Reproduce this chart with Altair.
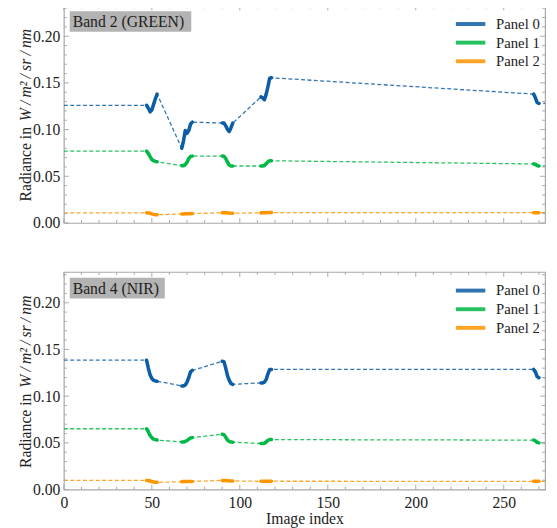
import altair as alt
import pandas as pd

FONT = "Liberation Serif"
INK = "#222222"
FRAME = "#a8a8a8"
X_MAX = 273.5
Y_MAX = 0.233
W, H = 491, 222

band_titles = ["Band 2 (GREEN)", "Band 4 (NIR)"]
panel_names = ["Panel 0", "Panel 1", "Panel 2"]
panel_colors = ["#0C5DA5", "#00B945", "#FF9500"]

# image indices of the five acquisition runs
idx = [47, 48, 49, 50, 51, 52, 53,
       67, 68, 69, 70, 71, 72, 73,
       90, 91, 92, 93, 94, 95, 96,
       112, 113, 114, 115, 116, 117, 118,
       267, 268, 269, 270]
run = (["a"] * 7) + (["b"] * 7) + (["c"] * 7) + (["d"] * 7) + (["e"] * 4)

# Band 2 (GREEN)
b2_p0 = [0.126, 0.123, 0.119, 0.121, 0.127, 0.133, 0.138,
         0.080, 0.088, 0.099, 0.096, 0.099, 0.106, 0.108,
         0.107, 0.107, 0.104, 0.100, 0.098, 0.102, 0.107,
         0.135, 0.134, 0.132, 0.138, 0.146, 0.155, 0.1555,
         0.138, 0.134, 0.129, 0.128]
b2_p1 = [0.077, 0.0745, 0.071, 0.068, 0.0667, 0.066, 0.0655,
         0.0614, 0.0614, 0.0625, 0.065, 0.069, 0.0712, 0.0716,
         0.0716, 0.0714, 0.069, 0.065, 0.062, 0.061, 0.061,
         0.061, 0.061, 0.0615, 0.0635, 0.0655, 0.0666, 0.0666,
         0.0632, 0.0628, 0.0615, 0.061]
b2_p2 = [0.0109, 0.0107, 0.0103, 0.0097, 0.0092, 0.0089, 0.0088,
         0.0096, 0.0097, 0.0098, 0.0098, 0.0099, 0.0100, 0.0101,
         0.0109, 0.0110, 0.0109, 0.0108, 0.0106, 0.0105, 0.0105,
         0.0108, 0.0109, 0.0110, 0.0110, 0.0111, 0.0111, 0.0111,
         0.0110, 0.0110, 0.0110, 0.0110]

# Band 4 (NIR)
b4_p0 = [0.1385, 0.130, 0.123, 0.119, 0.117, 0.1163, 0.116,
         0.111, 0.111, 0.112, 0.115, 0.120, 0.126, 0.1275,
         0.1374, 0.1370, 0.130, 0.122, 0.117, 0.1135, 0.1127,
         0.1142, 0.1142, 0.115, 0.118, 0.124, 0.1286, 0.1286,
         0.1286, 0.126, 0.121, 0.1198]
b4_p1 = [0.0651, 0.062, 0.058, 0.0555, 0.054, 0.0535, 0.053,
         0.051, 0.051, 0.0515, 0.0525, 0.054, 0.0552, 0.0556,
         0.0592, 0.0588, 0.056, 0.053, 0.0515, 0.0508, 0.0507,
         0.0493, 0.0493, 0.0495, 0.051, 0.0527, 0.0535, 0.0535,
         0.0529, 0.0522, 0.0505, 0.050]
b4_p2 = [0.0098, 0.0097, 0.0092, 0.0086, 0.0081, 0.0078, 0.0077,
         0.0084, 0.0085, 0.0085, 0.0086, 0.0086, 0.0087, 0.0087,
         0.0098, 0.0098, 0.0097, 0.0095, 0.0093, 0.0092, 0.0092,
         0.0088, 0.0088, 0.0088, 0.0089, 0.0089, 0.0089, 0.0089,
         0.0088, 0.0088, 0.0088, 0.0088]

band_series = [[b2_p0, b2_p1, b2_p2], [b4_p0, b4_p1, b4_p2]]

x_major = [0, 50, 100, 150, 200, 250]
x_minor = [10, 20, 30, 40, 60, 70, 80, 90, 110, 120, 130, 140,
           160, 170, 180, 190, 210, 220, 230, 240, 260, 270]
y_major = [0.0, 0.05, 0.10, 0.15, 0.20]
y_minor = [0.01, 0.02, 0.03, 0.04, 0.06, 0.07, 0.08, 0.09, 0.11, 0.12,
           0.13, 0.14, 0.16, 0.17, 0.18, 0.19, 0.21, 0.22, 0.23]

y_title_a = "Radiance in"
y_title_b = "W\u2009/\u2009m\u00b2\u2009/\u2009sr\u2009/\u2009nm"

# styling for the band label boxes (pixel widths)
label_box_w = [124, 97]


def panel(b, show_x):
    xs = alt.Scale(domain=[0, X_MAX], nice=False, zero=False)
    ys = alt.Scale(domain=[0, Y_MAX], nice=False)
    cscale = alt.Scale(domain=panel_names, range=panel_colors)

    solid_rows, dash_rows = [], []
    for p, vals in zip(panel_names, band_series[b]):
        for i, v, r in zip(idx, vals, run):
            solid_rows.append({"idx": i, "value": v, "panel": p, "run": r})
        dash_rows.append({"idx": 0, "value": vals[0], "panel": p})
        for i, v in zip(idx, vals):
            dash_rows.append({"idx": i, "value": v, "panel": p})
        dash_rows.append({"idx": X_MAX, "value": vals[-1], "panel": p})
    solid = pd.DataFrame(solid_rows)
    dashed = pd.DataFrame(dash_rows)

    if show_x:
        x_axis = alt.Axis(values=x_major, ticks=False, tickSize=0, domain=False,
                          grid=False, labelPadding=5, labelFlush=False,
                          title="Image index", titlePadding=1)
    else:
        x_axis = None
    y_axis = alt.Axis(values=y_major, format=".2f", ticks=False, tickSize=0,
                      domain=False, grid=False, title=None, labelPadding=4)

    legend = alt.Legend(
        title=None, orient="none", legendX=W - 89, legendY=6, padding=2,
        symbolType="M-1.667,0H1.667", symbolSize=324, symbolStrokeWidth=4,
        labelFont=FONT, labelFontSize=15, labelColor=INK,
        labelOffset=15, rowPadding=0)

    X = lambda f: alt.X(f, scale=xs, axis=x_axis)
    Y = lambda f: alt.Y(f, scale=ys, axis=y_axis)

    dash_layer = alt.Chart(dashed).mark_line(
        strokeWidth=1.3, strokeDash=[4, 2.5], opacity=0.85
    ).encode(
        x=X("idx:Q"), y=Y("value:Q"),
        color=alt.Color("panel:N", scale=cscale, legend=legend),
    )

    solid_layer = alt.Chart(solid).mark_line(
        strokeWidth=3.6, strokeCap="round", strokeJoin="round"
    ).encode(
        x=X("idx:Q"), y=Y("value:Q"),
        color=alt.Color("panel:N", scale=cscale, legend=legend),
        detail="run:N",
    )

    layers = [dash_layer, solid_layer]

    # inward ticks on all four sides
    for vals, ln in ((x_major, 5), (x_minor, 3)):
        tdf = pd.DataFrame({"t": vals})
        base = alt.Chart(tdf).mark_rule(color=FRAME, strokeWidth=1)
        layers.append(base.encode(x=X("t:Q"), y=alt.value(H), y2=alt.value(H - ln)))
        layers.append(base.encode(x=X("t:Q"), y=alt.value(0), y2=alt.value(ln)))
    for vals, ln in ((y_major, 5), (y_minor, 3)):
        tdf = pd.DataFrame({"t": vals})
        base = alt.Chart(tdf).mark_rule(color=FRAME, strokeWidth=1)
        layers.append(base.encode(y=Y("t:Q"), x=alt.value(0), x2=alt.value(ln)))
        layers.append(base.encode(y=Y("t:Q"), x=alt.value(W), x2=alt.value(W - ln)))

    one = pd.DataFrame({"k": [0]})
    # band label box
    layers.append(alt.Chart(one).mark_rect(fill="#b3b3b3").encode(
        x=alt.value(6), x2=alt.value(6 + label_box_w[b]),
        y=alt.value(6), y2=alt.value(27)))
    layers.append(alt.Chart(one).mark_text(
        text=band_titles[b], font=FONT, fontSize=16, color=INK,
        align="left", baseline="middle").encode(
        x=alt.value(9), y=alt.value(17)))

    # y-axis title (roman + italic parts), read bottom-to-top
    yb = H / 2 + 89
    layers.append(alt.Chart(one).mark_text(
        text=y_title_a, font=FONT, fontSize=16, color=INK, angle=270,
        align="left", baseline="middle").encode(
        x=alt.value(-39), y=alt.value(yb)))
    layers.append(alt.Chart(one).mark_text(
        text=y_title_b, font=FONT, fontSize=16, fontStyle="italic", color=INK,
        angle=270, align="right", baseline="middle").encode(
        x=alt.value(-39), y=alt.value(yb - 80 - 96)))

    return alt.layer(*layers).properties(width=W, height=H)


chart = alt.vconcat(panel(0, False), panel(1, True), spacing=39).resolve_scale(
    color="independent"
).configure_view(
    stroke=FRAME, strokeWidth=1.2
).configure_axis(
    labelFont=FONT, labelFontSize=16, labelColor=INK,
    titleFont=FONT, titleFontSize=16, titleColor=INK, titleFontWeight="normal"
).properties(
    padding={"left": 9, "top": -10, "right": 0, "bottom": 0},
    background="white"
)

chart.save("out.html", embed_options={"renderer": "svg", "actions": False})
